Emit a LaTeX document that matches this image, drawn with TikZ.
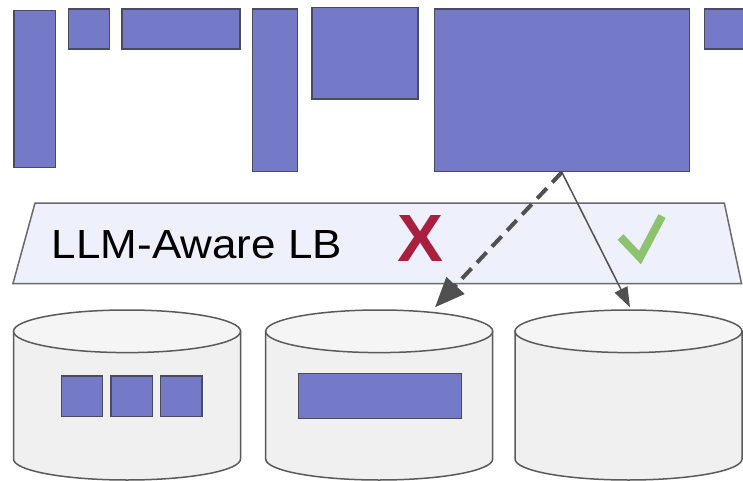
\documentclass[tikz,border=0pt]{standalone}
\usepackage{fontspec}
\setmainfont{Liberation Sans}
\usetikzlibrary{arrows.meta}
\definecolor{blkfill}{HTML}{7479C8}
\definecolor{blkline}{HTML}{4B4B5E}
\definecolor{cylfill}{HTML}{F0F0F0}
\definecolor{cyltop}{HTML}{F5F5F5}
\definecolor{cylline}{HTML}{5A5A5A}
\definecolor{bandfill}{HTML}{EEF0FB}
\definecolor{bandline}{HTML}{6A6A6A}
\definecolor{arrowc}{HTML}{505050}
\definecolor{crossc}{HTML}{A8203E}
\definecolor{checkc}{HTML}{8DC26F}
\tikzset{
  blk/.style={draw=blkline, fill=blkfill, line width=1.5pt, inner sep=0pt, anchor=north west},
  cylbody/.style={draw=cylline, fill=cylfill, line width=1.5pt},
  cyltopst/.style={draw=cylline, fill=cyltop, line width=1.5pt},
  band/.style={draw=bandline, fill=bandfill, line width=1.5pt},
  dasharrow/.style={draw=arrowc, line width=4pt, dash pattern=on 14pt off 8pt, -{Triangle[length=30pt,width=24pt]}},
  solidarrow/.style={draw=arrowc, line width=1.5pt, -{Triangle[length=20pt,width=14pt]}},
}
\newcommand{\blkrect}[5]{\node[blk, minimum width=#4pt-#2pt, minimum height=#5pt-#3pt] (#1) at (#2,#3) {};}
\newcommand{\cylinder}[2]{%
  \coordinate (#1) at (#2,331.3);
  \path[cylbody] (#2-113.5,331.3) -- (#2-113.5,459) arc[start angle=180, end angle=0, x radius=113.5, y radius=21] -- (#2+113.5,331.3) -- cycle;
  \path[cyltopst] (#1) ellipse[x radius=113.5, y radius=21.3];
}
\begin{document}
\begin{tikzpicture}[x=1pt,y=-1pt]
\useasboundingbox (0,0) rectangle (743,481);
\clip (0,0) rectangle (743,481);
\fill[white] (0,0) rectangle (743,481);
% top blocks
\blkrect{r1}{13.3}{10}{54.5}{166.7}
\blkrect{r2}{67.8}{8.3}{108.5}{48.3}
\blkrect{r3}{121.3}{8.3}{239.3}{48.3}
\blkrect{r4}{251.7}{8.3}{296.7}{170.7}
\blkrect{r5}{311.4}{6.7}{417}{98.3}
\blkrect{r6}{433.6}{8.3}{688.6}{170.7}
\blkrect{r7}{703.8}{8.3}{765}{48.3}
% load balancer band
\path[band] (35,203) -- (724.3,203) -- (741.5,283.5) -- (13,283.5) -- cycle;
\node[anchor=north west, inner sep=0pt] (lbtext) at (51.7,230) {\resizebox{290pt}{28pt}{LLM-Aware LB}};
\node[anchor=north west, inner sep=0pt, text=crossc] (cross) at (397,215) {\resizebox{46pt}{46pt}{\bfseries X}};
\coordinate (ck1) at (620.5,237);
\coordinate (ck2) at (640,257.5);
\coordinate (ck3) at (662,216);
\draw[checkc, line width=8pt] (ck1) -- (ck2) -- (ck3);
% cylinders
\cylinder{cyl1}{127}
\cylinder{cyl2}{379.2}
\cylinder{cyl3}{628.5}
% blocks inside cylinders
\blkrect{s1}{60.7}{375}{101.9}{415.7}
\blkrect{s2}{110}{375}{151.7}{415.7}
\blkrect{s3}{159.7}{375}{201}{415.7}
\blkrect{s4}{297.6}{372.7}{460.7}{417.7}
% arrows
\coordinate (dtip) at (435,307.3);
\coordinate (stip) at (630,307.3);
\draw[dasharrow] (r6.south) -- (dtip);
\draw[solidarrow] (r6.south) -- (stip);
\end{tikzpicture}
\end{document}
